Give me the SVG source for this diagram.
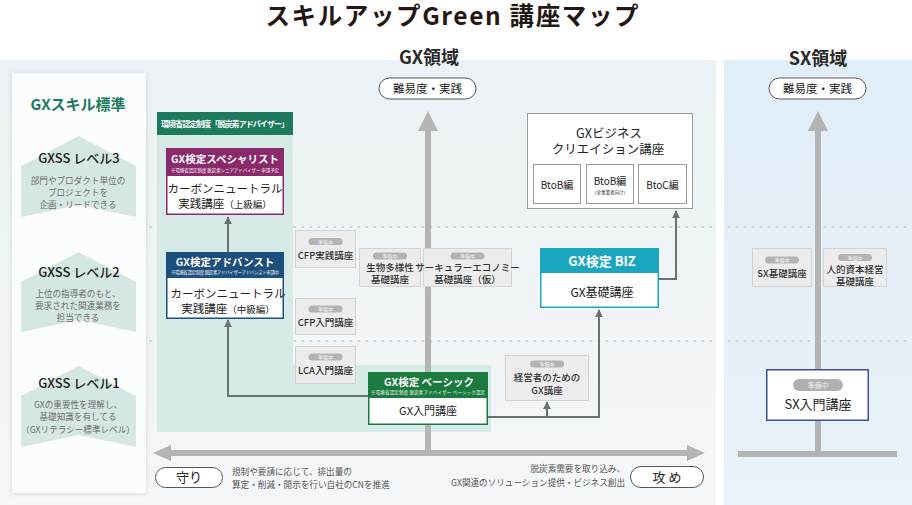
<svg xmlns="http://www.w3.org/2000/svg" width="912" height="505" viewBox="0 0 912 505">
<defs>
<style>
text{font-family:"Noto Sans CJK JP","Noto Sans",sans-serif;}
.c{text-anchor:middle}
.dot{stroke:#c3cbd0;stroke-width:1.6;stroke-dasharray:1.5 6.5;stroke-linecap:round;fill:none}
.gbox{fill:#ececec;stroke:#d3d3d3;stroke-width:1}
.pill{fill:#b3b3b3}
.pt{font-size:5px;fill:#f4f4f4;text-anchor:middle}
.gt{font-size:9.5px;fill:#333;text-anchor:middle;font-weight:500}
.conn{fill:none;stroke:#687272;stroke-width:2}
.axis{stroke:#b4b4b4;stroke-width:6;fill:none}
.axh{fill:#b4b4b4}
.chev{fill:#d5e7e2}
.lvl{font-size:13px;fill:#222;text-anchor:middle;font-weight:500}
.ld{font-size:8.6px;fill:#6d6d6d;text-anchor:middle}
.wt{fill:#fff;font-weight:700;text-anchor:middle}
.bt{fill:#222;text-anchor:middle}
.sub{fill:#fff;font-size:4.4px;text-anchor:middle}
.pillbig{fill:#fff;stroke:#555;stroke-width:1}
.wbox{fill:#fff;stroke:#9a9a9a;stroke-width:1}
.desc{font-size:8.6px;fill:#555}
</style>
<linearGradient id="gxbg" x1="0" y1="0" x2="0" y2="1">
<stop offset="0" stop-color="#ebf1f4"/>
<stop offset="1" stop-color="#f4f7f9"/>
</linearGradient>
<linearGradient id="sxbg" x1="0" y1="0" x2="0" y2="1">
<stop offset="0" stop-color="#e1edf7"/>
<stop offset="1" stop-color="#e9f2f9"/>
</linearGradient>
<filter id="sh" x="-10%" y="-5%" width="120%" height="110%">
<feDropShadow dx="0" dy="1" stdDeviation="2.5" flood-color="#000" flood-opacity="0.13"/>
</filter>
<marker id="ah" viewBox="0 0 10 10" refX="9" refY="5" markerWidth="4" markerHeight="4" orient="auto-start-reverse">
<path d="M0,0 L10,5 L0,10 z" fill="#687272"/>
</marker>
</defs>

<rect x="0" y="0" width="912" height="505" fill="#fff"/>
<!-- title -->
<text x="452" y="25" class="c" font-size="24.5" font-weight="700" fill="#231815" textLength="373">スキルアップGreen  講座マップ</text>

<!-- areas -->
<rect x="0" y="60" width="716" height="445" fill="url(#gxbg)"/>
<rect x="724" y="60" width="188" height="445" fill="url(#sxbg)"/>
<text x="429" y="64" class="c" font-size="18" font-weight="700" fill="#2a2a2a">GX領域</text>
<text x="818" y="65" class="c" font-size="18" font-weight="700" fill="#2a2a2a">SX領域</text>

<!-- left skill card -->
<g id="skill-standard">
<rect x="12" y="73" width="134" height="420" fill="#fbfcfd" filter="url(#sh)"/>
<text x="78" y="110" class="c" font-size="15" font-weight="700" fill="#1e7a5e">GXスキル標準</text>
<path class="chev" d="M21,166 L78.5,136 L136,166 L136,217 L78.5,205 L21,217 Z"/>
<text x="79" y="163" class="lvl">GXSS レベル3</text>
<text x="78" y="184" class="ld">部門やプロダクト単位の</text>
<text x="78" y="196" class="ld">プロジェクトを</text>
<text x="78" y="208" class="ld">企画・リードできる</text>
<path class="chev" d="M21,282 L78.5,252 L136,282 L136,332 L78.5,320 L21,332 Z"/>
<text x="79" y="277" class="lvl">GXSS レベル2</text>
<text x="78" y="297" class="ld">上位の指導者のもと、</text>
<text x="78" y="309" class="ld">要求された関連業務を</text>
<text x="78" y="321" class="ld">担当できる</text>
<path class="chev" d="M21,396 L78.5,366 L136,396 L136,447 L78.5,435 L21,447 Z"/>
<text x="79" y="388" class="lvl">GXSS レベル1</text>
<text x="78" y="408" class="ld">GXの重要性を理解し、</text>
<text x="78" y="420" class="ld">基礎知識を有してる</text>
<text x="78" y="433" class="ld">（GXリテラシー標準レベル）</text>
</g>

<!-- dotted level lines -->
<g id="level-lines">
<line class="dot" x1="150" y1="227" x2="714" y2="227"/>
<line class="dot" x1="728" y1="227" x2="910" y2="227"/>
<line class="dot" x1="150" y1="341" x2="714" y2="341"/>
<line class="dot" x1="728" y1="341" x2="910" y2="341"/>
</g>

<!-- green certification panel -->
<g id="moe-panel">
<path d="M157,112 H293 V365 H491 V432 H157 Z" fill="#d4e8e5" fill-opacity="0.92"/>
<rect x="157" y="112" width="136" height="23" fill="#1e7a5e"/>
<text x="225" y="127" class="wt" font-size="8" textLength="128">環境省認定制度「脱炭素アドバイザー」</text>
</g>

<!-- axes -->
<g id="axes">
<line class="axis" x1="428" y1="128" x2="428" y2="453"/>
<path class="axh" d="M418,131 L428,111 L438,131 Z"/>
<line class="axis" x1="168" y1="453" x2="690" y2="453"/>
<path class="axh" d="M171,445 L153,453 L171,461 Z"/>
<path class="axh" d="M687,445 L705,453 L687,461 Z"/>
<line class="axis" x1="818" y1="128" x2="818" y2="454"/>
<path class="axh" d="M808,131 L818,111 L828,131 Z"/>
<line class="axis" x1="738" y1="454" x2="897" y2="454"/>
</g>

<!-- difficulty pills -->
<g id="gx-difficulty">
<rect class="pillbig" x="379" y="78" width="97" height="21" rx="10.5"/>
<text x="427.5" y="93" class="bt" font-size="11.5">難易度・実践</text>
</g>
<g id="sx-difficulty">
<rect class="pillbig" x="769" y="78" width="97" height="21" rx="10.5"/>
<text x="817.5" y="93" class="bt" font-size="11.5">難易度・実践</text>
</g>

<!-- connectors -->
<g id="connectors">
<path class="conn" d="M228,252 V217" marker-end="url(#ah)"/>
<path class="conn" d="M368,396 H228 V320" marker-end="url(#ah)"/>
<path class="conn" d="M488,417 H599 V310" marker-end="url(#ah)"/>
<path class="conn" d="M547,417 V402" marker-end="url(#ah)"/>
<path class="conn" d="M659,279 H676 V211" marker-end="url(#ah)"/>
</g>

<!-- GX specialist -->
<g id="gx-specialist">
<rect x="166.75" y="148.75" width="116.5" height="65.5" fill="#fff" stroke="#8b2a6b" stroke-width="1.5"/>
<rect x="166" y="148" width="118" height="28" fill="#8b2a6b"/>
<text x="225" y="163" class="wt" font-size="10.5">GX検定スペシャリスト</text>
<text x="225" y="172" class="sub" textLength="108">※環境省認定制度 脱炭素シニアアドバイザー 申請予定</text>
<text x="225" y="193" class="bt" font-size="11.5">カーボンニュートラル</text>
<text x="225" y="207.5" class="bt" font-size="11.5">実践講座<tspan font-size="9.5">（上級編）</tspan></text>
</g>

<!-- GX advanced -->
<g id="gx-advanced">
<rect x="166.75" y="252.75" width="116.5" height="65.5" fill="#fff" stroke="#1d4f7c" stroke-width="1.5"/>
<rect x="166" y="252" width="118" height="26" fill="#1d4f7c"/>
<text x="225" y="266" class="wt" font-size="10.5">GX検定アドバンスト</text>
<text x="225" y="274" class="sub" textLength="108">※環境省認定制度 脱炭素アドバイザーアドバンスト申請中</text>
<text x="228" y="298" class="bt" font-size="11.5">カーボンニュートラル</text>
<text x="228" y="312.5" class="bt" font-size="11.5">実践講座<tspan font-size="9.5">（中級編）</tspan></text>
</g>

<!-- GX basic -->
<g id="gx-basic">
<rect x="368.75" y="372.75" width="118.5" height="51.5" fill="#fff" stroke="#1b7a3e" stroke-width="1.5"/>
<rect x="368" y="372" width="120" height="26" fill="#1b7a3e"/>
<text x="429" y="386" class="wt" font-size="10.5">GX検定 ベーシック</text>
<text x="428" y="394" class="sub" textLength="114">※環境省認定制度 脱炭素アドバイザー ベーシック認定</text>
<text x="428" y="415" class="bt" font-size="11">GX入門講座</text>
</g>

<!-- GX BIZ -->
<g id="gx-biz">
<rect x="540.75" y="248.75" width="117.5" height="58.5" fill="#fff" stroke="#1aa6bf" stroke-width="1.5"/>
<rect x="540" y="248" width="119" height="25" fill="#1aa6bf"/>
<text x="602" y="266" class="wt" font-size="13" font-family="'Liberation Serif','Noto Serif CJK JP','Noto Sans CJK JP',serif">GX検定 BIZ</text>
<text x="602" y="297" class="bt" font-size="12">GX基礎講座</text>
</g>

<!-- GX business creation -->
<g id="gx-business-creation">
<rect class="wbox" x="527.5" y="113.5" width="165" height="95" stroke="#777"/>
<text x="609" y="137.5" class="bt" font-size="12.5">GXビジネス</text>
<text x="608" y="154" class="bt" font-size="12.5">クリエイション講座</text>
<rect class="wbox" x="533.5" y="164.5" width="47" height="39" fill="#f9f9f9"/>
<text x="557" y="189" class="bt" font-size="10">BtoB編</text>
<rect class="wbox" x="586.5" y="164.5" width="47" height="39" fill="#f9f9f9"/>
<text x="610" y="184.5" class="bt" font-size="10">BtoB編</text>
<text x="610" y="193.5" class="bt" font-size="4.5">（全事業者向け）</text>
<rect class="wbox" x="638.5" y="164.5" width="48" height="39" fill="#f9f9f9"/>
<text x="662.5" y="189" class="bt" font-size="10">BtoC編</text>
</g>

<!-- gray planned boxes -->
<g id="cfp-practice">
<rect class="gbox" x="295.5" y="230.5" width="60" height="37"/>
<rect class="pill" x="308.5" y="238" width="34" height="7" rx="3.5"/>
<text x="325.5" y="243.8" class="pt">準備中</text>
<text x="325.5" y="259" class="gt">CFP実践講座</text>
</g>
<g id="biodiversity">
<rect class="gbox" x="359.5" y="248.5" width="61" height="38"/>
<rect class="pill" x="373" y="252.5" width="34" height="7" rx="3.5"/>
<text x="390" y="258.3" class="pt">準備中</text>
<text x="390" y="271" class="gt">生物多様性</text>
<text x="390" y="283" class="gt">基礎講座</text>
</g>
<g id="circular-economy">
<rect class="gbox" x="423.5" y="248.5" width="88" height="38"/>
<rect class="pill" x="450.5" y="252.5" width="34" height="7" rx="3.5"/>
<text x="467.5" y="258.3" class="pt">準備中</text>
<text x="467.5" y="271" class="gt" font-size="8.2">サーキュラーエコノミー</text>
<text x="467.5" y="283" class="gt" font-size="7.2">基礎講座（仮）</text>
</g>
<g id="cfp-intro">
<rect class="gbox" x="295.5" y="298.5" width="60" height="36"/>
<rect class="pill" x="308.5" y="305.5" width="34" height="7" rx="3.5"/>
<text x="325.5" y="311.3" class="pt">準備中</text>
<text x="325.5" y="326" class="gt">CFP入門講座</text>
</g>
<g id="lca-intro">
<rect class="gbox" x="295.5" y="346.5" width="60" height="37"/>
<rect class="pill" x="308.5" y="353.5" width="34" height="7" rx="3.5"/>
<text x="325.5" y="359.3" class="pt">準備中</text>
<text x="325.5" y="374" class="gt">LCA入門講座</text>
</g>
<g id="executive-gx">
<rect class="gbox" x="505.5" y="355.5" width="83" height="45"/>
<rect class="pill" x="530" y="360.5" width="34" height="7" rx="3.5"/>
<text x="547" y="366.3" class="pt">準備中</text>
<text x="547" y="381" class="gt" font-size="9">経営者のための</text>
<text x="547" y="393.5" class="gt" font-size="9">GX講座</text>
</g>
<g id="sx-basic">
<rect class="gbox" x="752.5" y="248.5" width="59" height="38"/>
<rect class="pill" x="765" y="256.5" width="34" height="7" rx="3.5"/>
<text x="782" y="262.3" class="pt">準備中</text>
<text x="782" y="277" class="gt" font-size="9">SX基礎講座</text>
</g>
<g id="human-capital">
<rect class="gbox" x="823.5" y="248.5" width="63" height="38"/>
<rect class="pill" x="838" y="254" width="34" height="7" rx="3.5"/>
<text x="855" y="259.8" class="pt">準備中</text>
<text x="855" y="272.5" class="gt" font-size="8.8">人的資本経営</text>
<text x="855" y="284.5" class="gt" font-size="8.8">基礎講座</text>
</g>

<!-- SX intro -->
<g id="sx-intro">
<rect x="766.75" y="369.75" width="101.5" height="50.5" fill="#fff" stroke="#3c4f9e" stroke-width="1.5"/>
<rect x="793" y="379" width="50" height="12" rx="6" fill="#b0b0b0"/>
<text x="818" y="387.8" class="c" font-size="7" fill="#eee">準備中</text>
<text x="818" y="409" class="bt" font-size="13">SX入門講座</text>
</g>

<!-- bottom labels -->
<g id="defense">
<rect class="pillbig" x="155.5" y="467.5" width="67" height="20" rx="10"/>
<text x="189" y="482" class="bt" font-size="13">守り</text>
<text x="232" y="475" class="desc">規制や要請に応じて、排出量の</text>
<text x="232" y="488" class="desc">算定・削減・開示を行い自社のCNを推進</text>
</g>
<g id="offense">
<rect class="pillbig" x="630.5" y="466.5" width="73" height="21" rx="10.5"/>
<text x="667" y="481.5" class="bt" font-size="13">攻 め</text>
<text x="625" y="472" class="desc" text-anchor="end">脱炭素需要を取り込み、</text>
<text x="625" y="486" class="desc" text-anchor="end">GX関連のソリューション提供・ビジネス創出</text>
</g>
</svg>
